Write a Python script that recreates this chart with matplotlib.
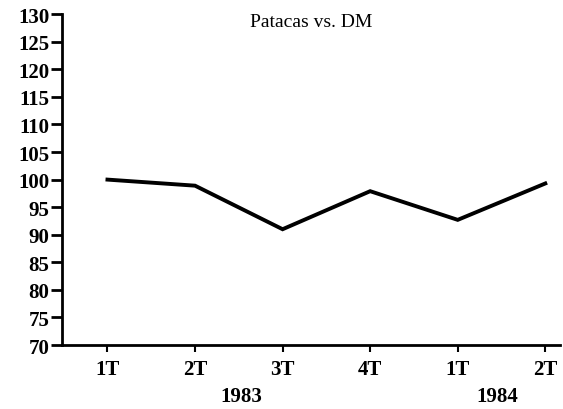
import matplotlib
matplotlib.use("Agg")
import matplotlib.pyplot as plt

quarters = ["1T", "2T", "3T", "4T", "1T", "2T"]
values = [100.0, 98.9, 91.0, 97.9, 92.7, 99.3]
years = ["1983", "1984"]
year_pos = [1.53, 4.45]
yticks = list(range(70, 131, 5))
title = "Patacas vs. DM"

plt.rcParams['font.family'] = ['Liberation Serif', 'DejaVu Serif']

fig = plt.figure(figsize=(5.63, 4.10), dpi=100)
ax = fig.add_axes([0.110, 0.156, 0.885, 0.807])
x = list(range(len(values)))
ax.plot(x, values, color='black', lw=2.8, solid_joinstyle='miter')
ax.set_xlim(-0.52, 5.17)
ax.set_ylim(70, 130)
ax.set_yticks(yticks)
ax.set_yticklabels([str(v) for v in yticks], fontsize=15, fontweight='bold')
ax.set_xticks(x)
ax.set_xticklabels(quarters, fontsize=15, fontweight='bold')
for s in ['top', 'right']:
    ax.spines[s].set_visible(False)
for s in ['left', 'bottom']:
    ax.spines[s].set_linewidth(2)
ax.tick_params(axis='y', direction='out', length=8, width=2, pad=1)
ax.tick_params(axis='x', direction='out', length=5, width=1.5, pad=5)
ax.text(0.5, 1.005, title, transform=ax.transAxes, ha='center', va='top', fontsize=14)
for yr, p in zip(years, year_pos):
    ax.text(p, -0.125, yr, transform=ax.get_xaxis_transform(), ha='center', va='top',
            fontsize=15, fontweight='bold')
fig.savefig("out.png", dpi=100)
